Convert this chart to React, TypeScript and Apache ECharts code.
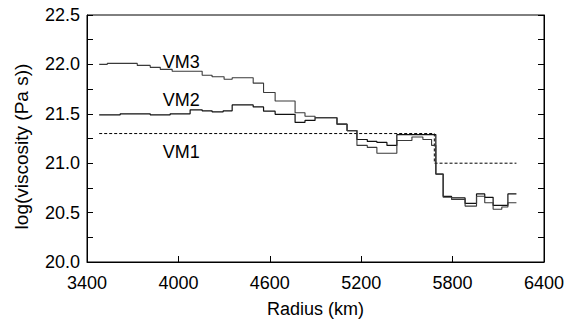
import React, { useEffect, useRef } from "react";
import * as echarts from "echarts";

// Viscosity models: each list holds the radius where a layer begins and its log10 viscosity.
// The final entry closes the last layer.
const vm1Radius = [3480, 5680, 6219];
const vm1Log = [21.3, 21.0, 21.0];

const vm2Radius = [
  3480, 3618, 3815, 3946, 4077, 4156, 4221, 4294, 4353, 4491, 4559, 4635, 4766, 4831,
  4897, 5041, 5107, 5172, 5240, 5303, 5369, 5434, 5690, 5738, 5793, 5882, 5957, 6011,
  6066, 6163, 6219,
];
const vm2Log = [
  21.49, 21.5, 21.49, 21.5, 21.54, 21.53, 21.52, 21.53, 21.59, 21.57, 21.527, 21.495,
  21.413, 21.433, 21.46, 21.395, 21.33, 21.24, 21.22, 21.21, 21.18, 21.29, 20.89, 20.665,
  20.649, 20.593, 20.689, 20.655, 20.573, 20.689, 20.689,
];

const vm3Radius = [
  3480, 3533, 3730, 3815, 3881, 3959, 4156, 4221, 4300, 4353, 4491, 4559, 4635, 4766,
  4831, 4897, 5041, 5107, 5172, 5240, 5303, 5434, 5533, 5605, 5662, 5690, 5738, 5793,
  5882, 5957, 6011, 6066, 6123, 6163, 6219,
];
const vm3Log = [
  22.0, 22.01, 21.99, 21.97, 21.95, 21.93, 21.89, 21.875, 21.85, 21.865, 21.81, 21.715,
  21.63, 21.51, 21.475, 21.46, 21.395, 21.33, 21.18, 21.16, 21.1, 21.23, 21.265, 21.24,
  21.18, 20.89, 20.655, 20.632, 20.566, 20.665, 20.6, 20.534, 20.556, 20.6, 20.6,
];

// Model names and where they are written
const modelNames = ["VM1", "VM2", "VM3"];
const nameRadius = [4018, 4018, 4018];
const nameLog = [21.115, 21.64, 22.02];

const radiusMin = 3400;
const radiusMax = 6400;
const radiusStep = 600;
const logMin = 20;
const logMax = 22.5;
const logStep = 0.25;

const FONT = "'Liberation Sans', Arial, Helvetica, sans-serif";

const pairs = (xs: number[], ys: number[]) => xs.map((x, i) => [x, ys[i]]);

const nameMark = (idx: number) => ({
  symbol: "circle",
  symbolSize: 0,
  silent: true,
  label: {
    show: true,
    position: "inside",
    formatter: modelNames[idx],
    color: "#000",
    fontSize: 18,
    fontFamily: FONT,
  },
  data: [{ coord: [nameRadius[idx], nameLog[idx]] }],
});

export default function App() {
  const ref = useRef<HTMLDivElement>(null);

  useEffect(() => {
    if (!ref.current) return;
    const chart = echarts.init(ref.current, undefined, { renderer: "svg" });

    const yCommon = {
      type: "value",
      min: logMin,
      max: logMax,
      interval: logStep,
      splitLine: { show: false },
      axisLine: { show: true, lineStyle: { color: "#000", width: 1 } },
      axisTick: { show: true, inside: true, length: 6, lineStyle: { color: "#000" } },
    };

    chart.setOption({
      animation: false,
      backgroundColor: "#fff",
      textStyle: { fontFamily: FONT, color: "#000" },
      grid: {
        left: 87,
        right: 24,
        top: 15,
        bottom: 55,
        show: true,
        borderColor: "#000",
        borderWidth: 1,
      },
      xAxis: {
        type: "value",
        min: radiusMin,
        max: radiusMax,
        interval: radiusStep,
        splitLine: { show: false },
        axisLine: { show: true, lineStyle: { color: "#000", width: 1 } },
        axisTick: { show: true, inside: true, length: 6, lineStyle: { color: "#000" } },
        axisLabel: {
          color: "#000",
          fontSize: 18,
          margin: 12,
          fontFamily: FONT,
          formatter: (v: number) => String(v),
        },
        name: "Radius (km)",
        nameLocation: "middle",
        nameGap: 38,
        nameTextStyle: { color: "#000", fontSize: 18, fontFamily: FONT },
      },
      yAxis: [
        {
          ...yCommon,
          position: "left",
          axisLabel: {
            color: "#000",
            fontSize: 18,
            margin: 7,
            fontFamily: FONT,
            formatter: (v: number) =>
              Math.abs(v * 2 - Math.round(v * 2)) < 1e-6 ? v.toFixed(1) : "",
          },
          name: "log(viscosity (Pa s))",
          nameLocation: "middle",
          nameGap: 56,
          nameRotate: 90,
          nameTextStyle: {
            color: "#000",
            fontSize: 19,
            fontFamily: FONT,
            padding: [0, 16, 0, 0],
          },
        },
        {
          ...yCommon,
          position: "right",
          axisLabel: { show: false },
        },
      ],
      series: [
        {
          name: "VM1",
          type: "line",
          step: "end",
          showSymbol: false,
          data: pairs(vm1Radius, vm1Log),
          lineStyle: { color: "#000", width: 1, type: [3, 2] },
          markPoint: nameMark(0),
        },
        {
          name: "VM2",
          type: "line",
          step: "end",
          showSymbol: false,
          data: pairs(vm2Radius, vm2Log),
          lineStyle: { color: "#111", width: 1.2 },
          markPoint: nameMark(1),
        },
        {
          name: "VM3",
          type: "line",
          step: "end",
          showSymbol: false,
          data: pairs(vm3Radius, vm3Log),
          lineStyle: { color: "#3a3a3a", width: 1.1 },
          markPoint: nameMark(2),
        },
      ],
    });

    return () => chart.dispose();
  }, []);

  return (
    <div
      ref={ref}
      style={{ position: "fixed", left: 0, top: 0, width: 568, height: 323 }}
    />
  );
}
